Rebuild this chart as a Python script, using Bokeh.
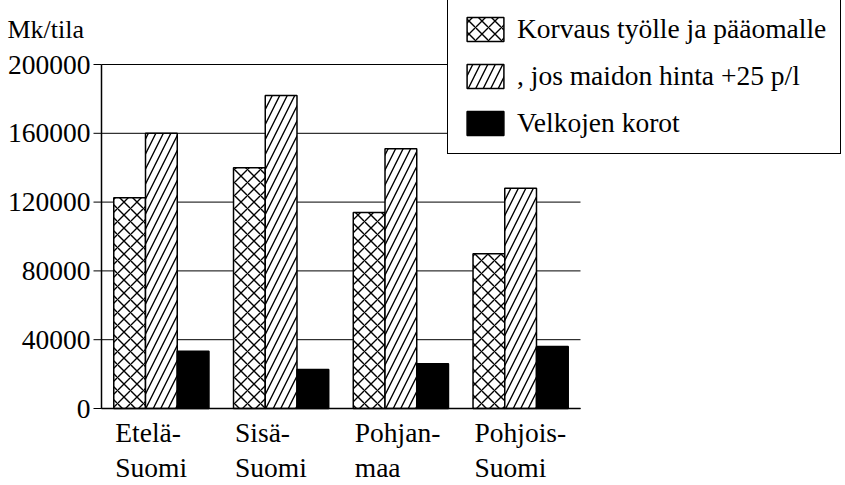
from math import pi
from bokeh.plotting import figure
from bokeh.models import ColumnDataSource, Legend, LegendItem, Range1d
from bokeh.core.properties import value
from bokeh.transform import dodge
from bokeh.embed import file_html
from bokeh.resources import INLINE

# ---- data ----
regions = ["Etelä-Suomi", "Sisä-Suomi", "Pohjanmaa", "Pohjois-Suomi"]
label_line1 = ["Etelä-", "Sisä-", "Pohjan-", "Pohjois-"]
label_line2 = ["Suomi", "Suomi", "maa", "Suomi"]
korvaus = [122500, 140000, 114000, 90000]
korvaus_25 = [160000, 182000, 151000, 128000]
korot = [33300, 22700, 26000, 36000]
y_ticks = [0, 40000, 80000, 120000, 160000, 200000]
y_tick_labels = ["0", "40000", "80000", "120000", "160000", "200000"]
series_names = ["Korvaus työlle ja pääomalle", ", jos maidon hinta +25 p/l", "Velkojen korot"]
y_unit = "Mk/tila"

# ---- layout constants (pixels) ----
W, H = 845, 485
AX_L, AX_R = 101, 580       # plot area in canvas px
AX_T, AX_B = 64, 408
Y_MAX = 200000
FONT = value("Liberation Serif")
FS = "27.5px"

n = len(regions)
px_per_x = (AX_R - AX_L) / n
x0 = -0.5 - AX_L / px_per_x
x1 = -0.5 + (W - AX_L) / px_per_x
px_per_y = (AX_B - AX_T) / Y_MAX
y0 = -(H - AX_B) / px_per_y
y1 = Y_MAX + AX_T / px_per_y

idx = list(range(n))
src = ColumnDataSource(dict(i=idx, l1=label_line1, l2=label_line2,
                            k=korvaus, k25=korvaus_25, v=korot, base=[0] * n))
tsrc = ColumnDataSource(dict(y=y_ticks, t=y_tick_labels))

p = figure(width=W, height=H, x_range=Range1d(x0, x1), y_range=Range1d(y0, y1),
           x_axis_type=None, y_axis_type=None,
           output_backend="svg", toolbar_location=None,
           min_border=0, min_border_left=0, min_border_right=0,
           min_border_top=0, min_border_bottom=0)
p.outline_line_color = None
p.xgrid.visible = False
p.ygrid.visible = False
p.background_fill_color = "white"
p.border_fill_color = "white"

# gridlines (value axis)
p.segment(x0=-0.5, x1=n - 0.5, y0="y", y1="y", source=tsrc, line_color="black", line_width=1)

bw = 0.265
r1 = p.vbar(x=dodge("i", -bw), top="k", width=bw, source=src,
            fill_color="white", line_color="black", line_width=1.5,
            hatch_pattern="diagonal_cross", hatch_color="black", hatch_scale=13, hatch_weight=1.4)
r2 = p.vbar(x=dodge("i", 0), top="k25", width=bw, source=src,
            fill_color="white", line_color="black", line_width=1.5,
            hatch_pattern="right_diagonal_line", hatch_color="black", hatch_scale=15, hatch_weight=1.4)
r3 = p.vbar(x=dodge("i", bw), top="v", width=bw, source=src,
            fill_color="black", line_color="black", line_width=1.5)

# axes drawn through the data scales
p.segment(x0=-0.5, x1=-0.5, y0=0, y1=Y_MAX, line_color="black", line_width=1.5)
p.segment(x0=-0.5, x1=n - 0.5, y0=0, y1=0, line_color="black", line_width=1.5)
p.ray(x=-0.5, y="y", source=tsrc, length=8, length_units="screen", angle=pi,
      line_color="black", line_width=1)
p.text(x=-0.5, y="y", text="t", source=tsrc, x_offset=-11, text_align="right",
       text_baseline="middle", text_font=FONT, text_font_size=FS, text_color="black")

# category labels (two lines, left aligned at group start)
p.text(x=dodge("i", -0.385), y="base", text="l1", source=src, y_offset=24,
       text_align="left", text_baseline="alphabetic", text_font=FONT,
       text_font_size=FS, text_color="black")
p.text(x=dodge("i", -0.385), y="base", text="l2", source=src, y_offset=59,
       text_align="left", text_baseline="alphabetic", text_font=FONT,
       text_font_size=FS, text_color="black")

# unit label
p.text(x=[-0.5], y=[Y_MAX], text=[y_unit], x_offset=-94, y_offset=-35,
       text_align="left", text_baseline="alphabetic", text_font=FONT,
       text_font_size="26px", text_color="black")

legend = Legend(items=[LegendItem(label=series_names[0], renderers=[r1]),
                       LegendItem(label=series_names[1], renderers=[r2]),
                       LegendItem(label=series_names[2], renderers=[r3])],
                location=(447, H - 154), label_text_font="Liberation Serif",
                label_text_font_size=FS, label_text_color="black",
                glyph_width=46, glyph_height=30, label_height=30, spacing=15,
                padding=14, margin=0, label_standoff=9,
                border_line_color="black", border_line_width=1.5, border_line_alpha=1,
                background_fill_color="white", background_fill_alpha=1)
p.add_layout(legend)

open("out.html", "w").write(file_html(p, INLINE))
